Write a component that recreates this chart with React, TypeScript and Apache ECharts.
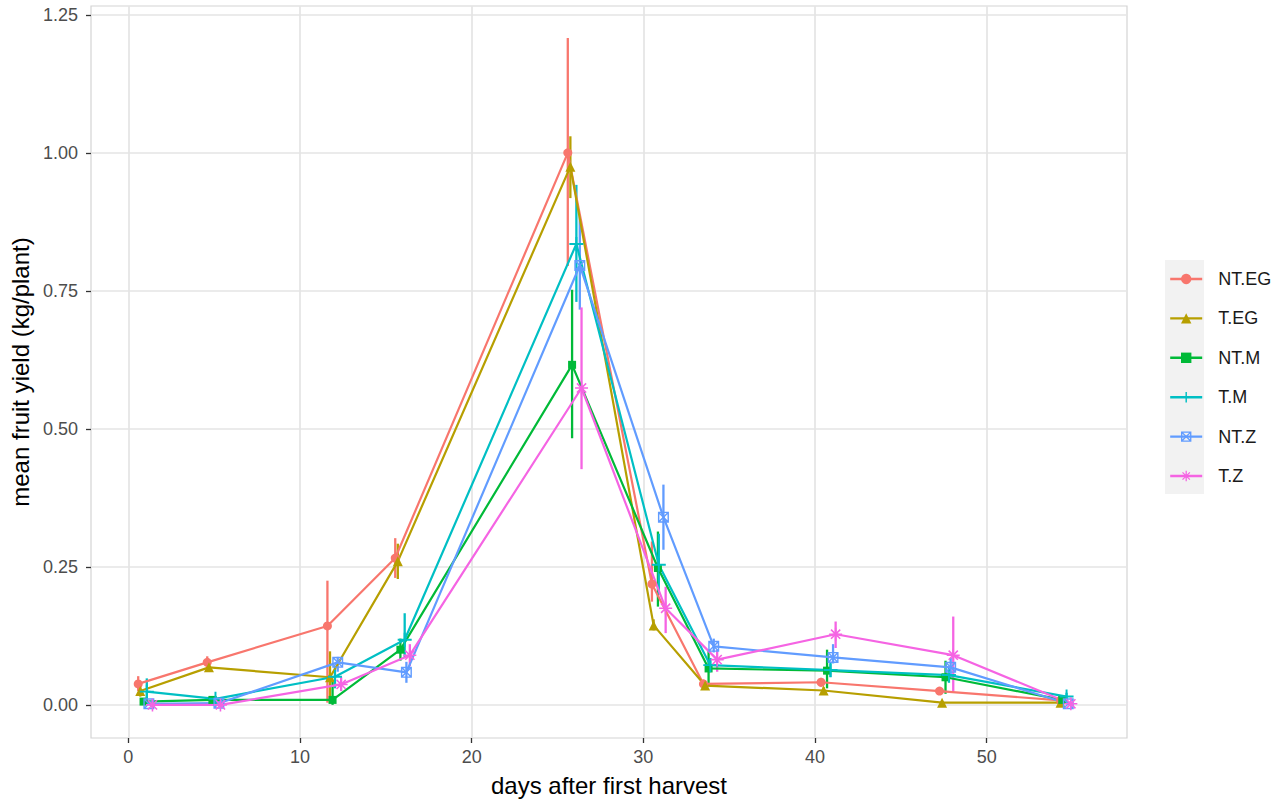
import React, { useEffect, useRef } from "react";
import * as echarts from "echarts";

const seriesNames = ["NT.EG", "T.EG", "NT.M", "T.M", "NT.Z", "T.Z"];
const colors = ["#F8766D", "#B79F00", "#00BA38", "#00BFC4", "#619CFF", "#F564E3"];

const xNTEG = [0.58, 4.6, 11.6, 15.55, 25.6, 30.5, 33.5, 40.35, 47.25, 54.3];
const yNTEG = [0.038, 0.077, 0.143, 0.266, 1.0, 0.219, 0.038, 0.041, 0.025, 0.008];
const loNTEG = [0.025, 0.068, 0.004, 0.23, 0.795, 0.187, 0.03, 0.033, 0.02, 0.004];
const hiNTEG = [0.052, 0.088, 0.225, 0.302, 1.208, 0.296, 0.046, 0.049, 0.03, 0.012];

const xTEG = [0.7, 4.7, 11.75, 15.7, 25.75, 30.6, 33.6, 40.5, 47.4, 54.3];
const yTEG = [0.025, 0.068, 0.05, 0.26, 0.975, 0.144, 0.035, 0.026, 0.004, 0.004];
const loTEG = [0.015, 0.062, 0.003, 0.228, 0.918, 0.135, 0.03, 0.02, 0.001, 0.001];
const hiTEG = [0.035, 0.074, 0.097, 0.292, 1.03, 0.155, 0.04, 0.032, 0.007, 0.007];

const xNTM = [0.89, 4.9, 11.9, 15.85, 25.85, 30.85, 33.8, 40.7, 47.6, 54.4];
const yNTM = [0.006, 0.009, 0.009, 0.1, 0.616, 0.248, 0.066, 0.062, 0.05, 0.009];
const loNTM = [0.002, 0.004, 0.0, 0.08, 0.483, 0.178, 0.035, 0.03, 0.02, 0.005];
const hiNTM = [0.01, 0.014, 0.045, 0.12, 0.752, 0.314, 0.1, 0.1, 0.08, 0.013];

const xTM = [1.08, 5.08, 12.04, 16.1, 26.1, 30.9, 33.9, 40.9, 47.8, 54.65];
const yTM = [0.024, 0.011, 0.051, 0.118, 0.835, 0.254, 0.072, 0.063, 0.054, 0.015];
const loTM = [0.0, 0.006, 0.03, 0.085, 0.73, 0.2, 0.06, 0.05, 0.04, 0.008];
const hiTM = [0.048, 0.016, 0.07, 0.166, 0.942, 0.31, 0.085, 0.075, 0.068, 0.022];

const xNTZ = [1.2, 5.28, 12.2, 16.2, 26.3, 31.17, 34.1, 41.05, 47.9, 54.75];
const yNTZ = [0.002, 0.003, 0.077, 0.059, 0.796, 0.34, 0.106, 0.086, 0.068, 0.002];
const loNTZ = [0.0, 0.0, 0.06, 0.04, 0.716, 0.281, 0.095, 0.075, 0.05, 0.0];
const hiNTZ = [0.006, 0.007, 0.087, 0.078, 0.885, 0.399, 0.12, 0.11, 0.085, 0.005];

const xTZ = [1.41, 5.37, 12.4, 16.4, 26.4, 31.3, 34.3, 41.2, 48.05, 54.9];
const yTZ = [0.0, 0.0, 0.037, 0.09, 0.574, 0.175, 0.082, 0.128, 0.09, 0.002];
const loTZ = [0.0, 0.0, 0.025, 0.07, 0.427, 0.13, 0.06, 0.103, 0.024, 0.0];
const hiTZ = [0.003, 0.003, 0.05, 0.11, 0.72, 0.214, 0.1, 0.151, 0.16, 0.004];

const xTicks = [0, 10, 20, 30, 40, 50];
const yTicks = [0, 0.25, 0.5, 0.75, 1.0, 1.25];

const PLUS = "path://M8.6,0H11.4V8.6H20V11.4H11.4V20H8.6V11.4H0V8.6H8.6Z";
const ASTER =
  "path://M8.8,0H11.2V8.8H20V11.2H11.2V20H8.8V11.2H0V8.8H8.8Z" +
  "M2.08,3.78L3.78,2.08L17.92,16.22L16.22,17.92Z" +
  "M16.22,2.08L17.92,3.78L3.78,17.92L2.08,16.22Z";
const SQX =
  "path://M0,0H20V20H0Z" +
  "M2.6,2.6V17.4H17.4V2.6Z" +
  "M0,1.8L1.8,0L20,18.2L18.2,20Z" +
  "M18.2,0L20,1.8L1.8,20L0,18.2Z";

const symbols = ["circle", "triangle", "rect", PLUS, SQX, ASTER];
const symbolSizes = [9, 10, 8, 14, 11, 13];

const xs = [xNTEG, xTEG, xNTM, xTM, xNTZ, xTZ];
const ys = [yNTEG, yTEG, yNTM, yTM, yNTZ, yTZ];
const los = [loNTEG, loTEG, loNTM, loTM, loNTZ, loTZ];
const his = [hiNTEG, hiTEG, hiNTM, hiTM, hiNTZ, hiTZ];

const FONT = "'Liberation Sans', Arial, Helvetica, sans-serif";

export default function App() {
  const ref = useRef<HTMLDivElement>(null);
  useEffect(() => {
    if (!ref.current) return;
    const chart = echarts.init(ref.current, undefined, { renderer: "svg" });

    const errSeries = seriesNames.map((name, i) => ({
      type: "custom",
      name: name + " err",
      data: xs[i].map((x, j) => [x, los[i][j], his[i][j]]),
      encode: { x: 0, y: [1, 2] },
      silent: true,
      z: 3,
      renderItem: (params: any, api: any) => {
        const x = api.value(0);
        const p1 = api.coord([x, api.value(1)]);
        const p2 = api.coord([x, api.value(2)]);
        return {
          type: "line",
          shape: { x1: p1[0], y1: p1[1], x2: p2[0], y2: p2[1] },
          style: { stroke: colors[i], lineWidth: 2.3 },
        };
      },
    }));

    const lineSeries = seriesNames.map((name, i) => ({
      type: "line",
      name,
      data: xs[i].map((x, j) => [x, ys[i][j]]),
      symbol: symbols[i],
      symbolSize: symbolSizes[i],
      showSymbol: true,
      showAllSymbol: true,
      itemStyle: { color: colors[i] },
      lineStyle: { color: colors[i], width: 2.2 },
      emphasis: { disabled: true },
      z: 4,
    }));

    chart.setOption({
      animation: false,
      backgroundColor: "#ffffff",
      textStyle: { fontFamily: FONT },
      grid: {
        left: 86,
        right: 153,
        top: 6,
        bottom: 65,
        show: true,
        borderColor: "#d4d4d4",
        borderWidth: 1.2,
        backgroundColor: "#ffffff",
      },
      graphic: [
        {
          type: "rect",
          left: 1165,
          top: 260,
          shape: { x: 0, y: 0, width: 39, height: 234 },
          style: { fill: "#f2f2f2" },
          z: 0,
        },
      ],
      legend: {
        data: seriesNames,
        orient: "vertical",
        left: 1169,
        top: 270,
        padding: 0,
        itemWidth: 32,
        itemHeight: 13,
        itemGap: 21.4,
        selectedMode: false,
        lineStyle: { width: 2.4 },
        textStyle: {
          fontSize: 18,
          color: "#1a1a1a",
          fontFamily: FONT,
          padding: [0, 0, 0, 11],
        },
        z: 5,
      },
      xAxis: {
        type: "value",
        min: -2.17,
        max: 58.17,
        name: "days after first harvest",
        nameLocation: "middle",
        nameGap: 35,
        nameTextStyle: { fontSize: 24, color: "#000000", fontFamily: FONT },
        axisLine: { show: false, onZero: false },
        axisTick: {
          show: true,
          customValues: xTicks,
          length: 5,
          lineStyle: { color: "#333333", width: 1.3 },
        },
        axisLabel: {
          customValues: xTicks,
          margin: 10,
          fontSize: 18,
          color: "#4d4d4d",
          fontFamily: FONT,
        },
        splitLine: { show: true, lineStyle: { color: "#e4e4e4", width: 1.7 } },
      },
      yAxis: {
        type: "value",
        min: -0.06,
        max: 1.266,
        name: "mean fruit yield (kg/plant)",
        nameLocation: "middle",
        nameGap: 59,
        nameTextStyle: { fontSize: 24, color: "#000000", fontFamily: FONT },
        axisLine: { show: false, onZero: false },
        axisTick: {
          show: true,
          customValues: yTicks,
          length: 5,
          lineStyle: { color: "#333333", width: 1.3 },
        },
        axisLabel: {
          customValues: yTicks,
          margin: 13,
          fontSize: 18,
          color: "#4d4d4d",
          fontFamily: FONT,
          formatter: (v: number) => v.toFixed(2),
        },
        splitLine: { show: true, lineStyle: { color: "#e4e4e4", width: 1.7 } },
      },
      series: [...errSeries, ...lineSeries],
    });
    return () => chart.dispose();
  }, []);
  return (
    <div
      ref={ref}
      style={{ position: "fixed", left: 0, top: 0, width: 1280, height: 803 }}
    />
  );
}
